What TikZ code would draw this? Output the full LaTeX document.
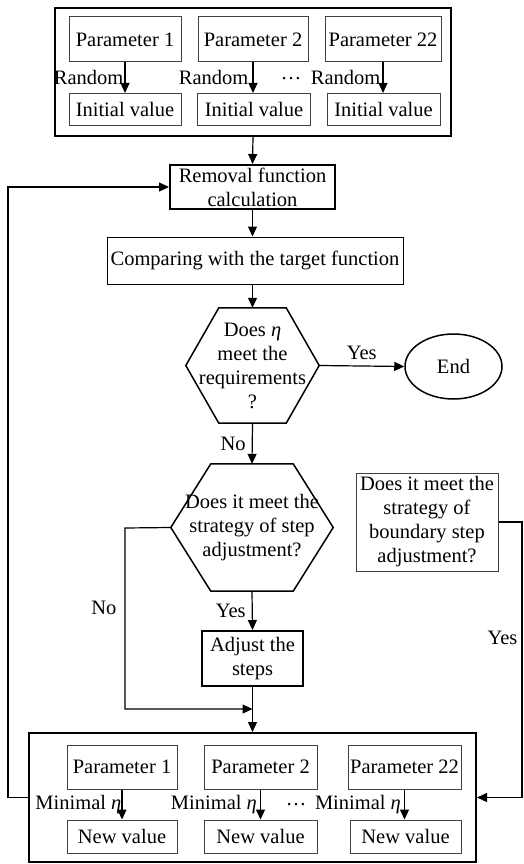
\documentclass[tikz,border=0pt]{standalone}
\usepackage{fontspec}
\setmainfont{Liberation Serif}
\usetikzlibrary{arrows.meta, shapes.geometric}

\begin{document}
\begin{tikzpicture}[x=1pt, y=-1pt, >={Triangle[length=10pt, width=9pt]},
                    group/.style = {rectangle, draw, line width=2pt, inner sep=0pt},
                    parameter/.style = {rectangle, draw=black!75, line width=1pt, inner sep=0pt, minimum height=45pt},
                    value/.style = {rectangle, draw=black!75, line width=1pt, inner sep=0pt, minimum height=32pt},
                    process/.style = {rectangle, draw, line width=2pt, align=center, inner sep=0pt},
                    decision/.style = {rectangle, align=center, inner sep=0pt},
                    hexagon/.style = {line width=1.5pt, line join=miter},
                    flow/.style = {line width=1.2pt},
                    font=\fontsize{20.5pt}{24pt}\selectfont]
  \useasboundingbox (0, 0) rectangle (524, 864);

  % Initialisation group.
  \node at (253, 72) [group, minimum width=396pt, minimum height=128pt, name=InitialGroup] {};
  \node at (125, 39.5) [parameter, minimum width=112pt, name=TopParameter1] {Parameter 1};
  \node at (253, 39.5) [parameter, minimum width=110pt, name=TopParameter2] {Parameter 2};
  \node at (383, 39.5) [parameter, minimum width=116pt, name=TopParameter22] {Parameter 22};
  \node at (125, 109.5) [value, minimum width=112pt, name=Initial1] {Initial value};
  \node at (254, 109.5) [value, minimum width=113pt, name=Initial2] {Initial value};
  \node at (383.5, 109.5) [value, minimum width=113pt, name=Initial22] {Initial value};
  \node at (291, 79) [name=TopDots] {\dots};

  % Main loop.
  \node at (252.5, 187) [process, minimum width=165pt, minimum height=44pt, name=Removal] {Removal function\\calculation};
  \node at (255, 260.5) [rectangle, draw, line width=1pt, minimum width=296pt, minimum height=47pt, inner sep=0pt, name=Comparing] {Comparing with the target function};
  \node at (252.5, 365.5) [decision, minimum width=133pt, minimum height=115pt, name=Requirement] {Does \textit{η}\\meet the\\requirements\\?};
  \node at (453.5, 366.5) [ellipse, draw, line width=1.5pt, minimum width=97pt, minimum height=65pt, inner sep=0pt, name=End] {End};
  \node at (252, 527.5) [decision, minimum width=162pt, minimum height=127pt, name=StepStrategy] {Does it meet the\\strategy of step\\adjustment?};
  \node at (427, 522) [rectangle, draw=black!75, line width=1pt, align=center, minimum width=142pt, minimum height=98pt, inner sep=0pt, name=BoundaryStrategy] {Does it meet the\\strategy of\\boundary step\\adjustment?};
  \node at (252.5, 658.5) [process, minimum width=101pt, minimum height=55pt, name=Adjust] {Adjust the\\steps};

  % Hexagon outlines.
  \draw [hexagon] (Requirement.west)
                  -- ([xshift=33pt]Requirement.north west)
                  -- ([xshift=-33pt]Requirement.north east)
                  -- (Requirement.east)
                  -- ([xshift=-33pt]Requirement.south east)
                  -- ([xshift=33pt]Requirement.south west)
                  -- cycle;
  \draw [hexagon] (StepStrategy.west)
                  -- ([xshift=40pt]StepStrategy.north west)
                  -- ([xshift=-40pt]StepStrategy.north east)
                  -- (StepStrategy.east)
                  -- ([xshift=-40pt]StepStrategy.south east)
                  -- ([xshift=40pt]StepStrategy.south west)
                  -- cycle;

  % Update group.
  \node at (252.5, 797.5) [group, minimum width=447pt, minimum height=129pt, name=UpdateGroup] {};
  \node at (122, 767) [parameter, minimum width=110pt, minimum height=44pt, name=LowParameter1] {Parameter 1};
  \node at (260.5, 767) [parameter, minimum width=113pt, minimum height=44pt, name=LowParameter2] {Parameter 2};
  \node at (404.5, 767) [parameter, minimum width=113pt, minimum height=44pt, name=LowParameter22] {Parameter 22};
  \node at (122, 836.5) [value, minimum width=110pt, minimum height=33pt, name=New1] {New value};
  \node at (260.5, 836.5) [value, minimum width=113pt, minimum height=33pt, name=New2] {New value};
  \node at (405.5, 836.5) [value, minimum width=111pt, minimum height=33pt, name=New22] {New value};
  \node at (296, 805) [name=LowDots] {\dots};

  % Junctions.
  \coordinate (merge) at (252.5, 709);
  \coordinate (noCorner) at (125, 528);

  % Random initial values.
  \draw [flow, ->] (TopParameter1.south)
                   to node [left, inner sep=1pt] {Random}
                   (Initial1.north);
  \draw [flow, ->] (TopParameter2.south)
                   to node [left, inner sep=4pt] {Random}
                   (TopParameter2.south |- Initial2.north);
  \draw [flow, ->] (TopParameter22.south)
                   to node [left, inner sep=2pt] {Random}
                   (TopParameter22.south |- Initial22.north);

  % Main flow.
  \draw [flow, ->] (InitialGroup.south)
                   to (Removal.north);
  \draw [flow, ->] (Removal.south)
                   to (Removal.south |- Comparing.north);
  \draw [flow, ->] (Removal.south |- Comparing.south)
                   to (Requirement.north);
  \draw [flow, ->] (Requirement.east)
                   to node [above, yshift=2pt] {Yes}
                   (End.west);
  \draw [flow, ->] (Requirement.south)
                   to node [left, inner sep=6pt] {No}
                   (StepStrategy.north);
  \draw [flow, ->] (StepStrategy.south)
                   to node [left, inner sep=6pt] {Yes}
                   (Adjust.north);
  \draw [flow, ->] (Adjust.south)
                   to (UpdateGroup.north);
  \draw [flow, ->] (StepStrategy.west)
                   -- (noCorner)
                   -- node [left, inner sep=8pt, pos=0.44] {No} (noCorner |- merge)
                   -- (merge);
  \draw [flow, ->] (BoundaryStrategy.east)
                   -- (522, 522)
                   -- node [left, inner sep=4pt, pos=0.42] {Yes} (522, 797.5)
                   -- (UpdateGroup.east);

  % Minimal eta.
  \draw [flow, ->] (LowParameter1.south)
                   to node [left, inner sep=0pt] {Minimal \textit{η}}
                   (LowParameter1.south |- New1.north);
  \draw [flow, ->] (LowParameter2.south)
                   to node [left, inner sep=3pt] {Minimal \textit{η}}
                   (LowParameter2.south |- New2.north);
  \draw [flow, ->] (LowParameter22.south)
                   to node [left, inner sep=3pt] {Minimal \textit{η}}
                   (LowParameter22.south |- New22.north);

  % Feedback to the removal function.
  \draw [flow, ->] (UpdateGroup.west)
                   -- (8, 797.5)
                   -- (8, 187)
                   -- (Removal.west);
\end{tikzpicture}
\end{document}
